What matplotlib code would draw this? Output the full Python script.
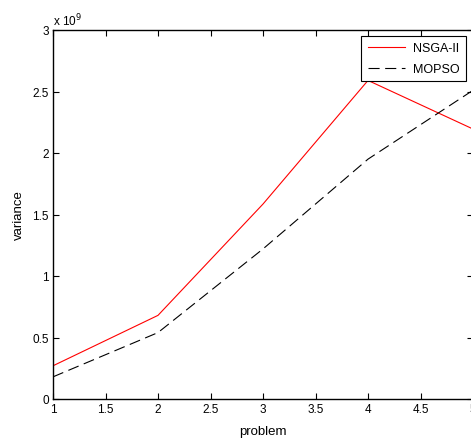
import matplotlib
matplotlib.use("Agg")
import matplotlib.pyplot as plt
from matplotlib.ticker import FuncFormatter, MultipleLocator

plt.rcParams['font.family'] = ['Liberation Sans', 'DejaVu Sans']
plt.rcParams['lines.scale_dashes'] = False

problems = [1, 2, 3, 4, 5]
nsga2 = [0.27e9, 0.68e9, 1.585e9, 2.59e9, 2.195e9]
mopso = [0.18e9, 0.54e9, 1.22e9, 1.95e9, 2.51e9]

fig = plt.figure(figsize=(4.71, 4.39), dpi=100)
ax = fig.add_axes([53/471, 39/439, 420/471, 369/439])

ax.plot(problems, nsga2, color='red', lw=0.8, label='NSGA-II')
ax.plot(problems, mopso, color='black', lw=0.8, linestyle=(0, (8, 4)), label='MOPSO')

ax.set_xlim(1, 5)
ax.set_ylim(0, 3e9)
ax.xaxis.set_major_locator(MultipleLocator(0.5))
ax.yaxis.set_major_locator(MultipleLocator(0.5e9))
ax.xaxis.set_major_formatter(FuncFormatter(lambda v, p: '%g' % v))
ax.yaxis.set_major_formatter(FuncFormatter(lambda v, p: '%g' % (v / 1e9)))
ax.tick_params(direction='in', length=4, width=0.8, top=True, right=True,
               labelsize=8.5, pad=3, colors='black')
for s in ax.spines.values():
    s.set_linewidth(1.0)

ax.text(0.0, 1.005, r'x 10$^{9}$', transform=ax.transAxes, fontsize=8.5,
        ha='left', va='bottom')

ax.set_xlabel('problem', fontsize=9.5, labelpad=7)
ax.set_ylabel('variance', fontsize=9.5, labelpad=5)

leg = ax.legend(loc='upper right', bbox_to_anchor=(415/420, 0.99), fontsize=9,
                fancybox=False, edgecolor='black', framealpha=1,
                handlelength=3.0, handletextpad=0.6, borderpad=0.5,
                labelspacing=0.7, borderaxespad=0.2)
leg.get_frame().set_linewidth(0.8)

fig.savefig('out.png', dpi=100)
